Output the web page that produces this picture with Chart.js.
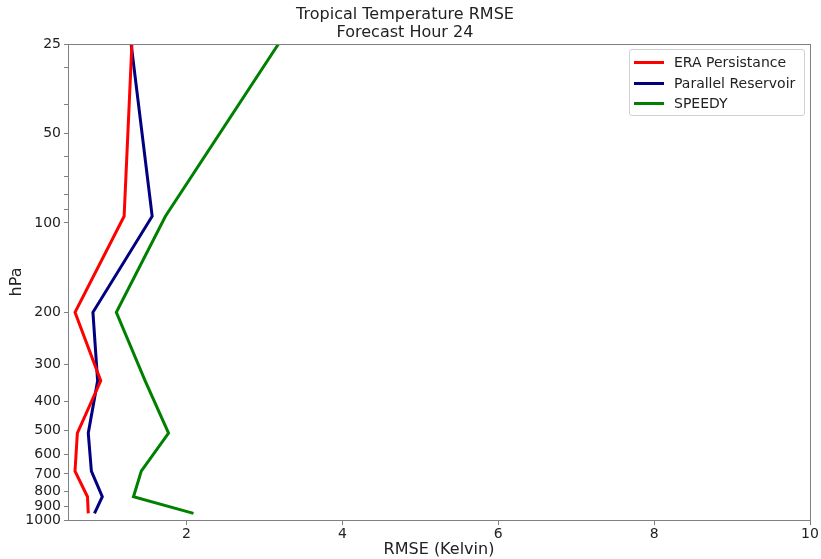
<!DOCTYPE html>
<html>
<head>
<meta charset="utf-8">
<script src="https://cdn.jsdelivr.net/npm/chart.js@4"></script>
<style>
  body { margin: 0; background: #fff; }
  #wrap { position: relative; width: 821px; height: 559px; }
  #leyenda {
    position: absolute; left: 629px; top: 49px; width: 174px; height: 65px;
    border: 1px solid #d0d0d0; border-radius: 3px; background: rgba(255,255,255,0.8);
    font-family: "DejaVu Sans", sans-serif; font-size: 14px; color: #222;
  }
  .item { position: absolute; left: 0; height: 20px; line-height: 20px; white-space: nowrap; }
  .item span.linea { position: absolute; left: 4px; top: 9px; width: 30px; height: 3px; }
  .item span.txt { position: absolute; left: 44px; top: 0; }
</style>
</head>
<body>
<div id="wrap">
  <canvas id="myChart" width="821" height="559"></canvas>
  <div id="leyenda"></div>
</div>
<script>
// niveles de presion (hPa)
var niveles = [25, 95, 200, 340, 510, 685, 835, 950];
// RMSE por serie
var eraPersistencia = [1.30, 1.20, 0.57, 0.90, 0.60, 0.57, 0.73, 0.74];
var reservorio = [1.29, 1.56, 0.80, 0.86, 0.74, 0.78, 0.92, 0.82];
var speedy = [3.18, 1.73, 1.10, 1.47, 1.77, 1.42, 1.32, 2.09];

var nombres = ['ERA Persistance', 'Parallel Reservoir', 'SPEEDY'];
var colores = ['#ff0000', '#000080', '#008000'];

var ticksY = [25, 30, 40, 50, 60, 70, 80, 90, 100, 200, 300, 400, 500, 600, 700, 800, 900, 1000];
var etiquetasY = [25, 50, 100, 200, 300, 400, 500, 600, 700, 800, 900, 1000];
var ticksX = [2, 4, 6, 8, 10];

function puntos(valores) {
  return valores.map(function (v, i) { return { x: v, y: niveles[i] }; });
}

var series = [eraPersistencia, reservorio, speedy];
var datasets = series.map(function (s, i) {
  return {
    label: nombres[i],
    data: puntos(s),
    borderColor: colores[i],
    backgroundColor: colores[i],
    borderWidth: 3,
    pointRadius: 0,
    fill: false,
    tension: 0
  };
});

// leyenda en html
var ley = document.getElementById('leyenda');
nombres.forEach(function (n, i) {
  var d = document.createElement('div');
  d.className = 'item';
  d.style.top = (2 + i * 20.5) + 'px';
  d.innerHTML = '<span class="linea" style="background:' + colores[i] + '"></span><span class="txt">' + n + '</span>';
  ley.appendChild(d);
});

var marco = {
  id: 'marco',
  afterDraw: function (chart) {
    var a = chart.chartArea, ctx = chart.ctx;
    ctx.save();
    ctx.strokeStyle = '#808080';
    ctx.lineWidth = 1;
    ctx.strokeRect(a.left + 0.5, a.top + 0.5, a.right - a.left, a.bottom - a.top);
    ctx.restore();
  }
};

Chart.defaults.font.family = '"DejaVu Sans", sans-serif';
Chart.defaults.color = '#222';

var ctx = document.getElementById('myChart');
var myChart = new Chart(ctx, {
  type: 'line',
  data: { datasets: datasets },
  plugins: [marco],
  options: {
    responsive: false,
    animation: false,
    layout: { padding: { left: 0, right: 11, top: 0, bottom: 0 } },
    plugins: {
      legend: { display: false },
      tooltip: { enabled: false },
      title: {
        display: true,
        text: ['Tropical Temperature RMSE', 'Forecast Hour 24'],
        font: { size: 16, weight: 'normal', lineHeight: 1.125 },
        color: '#222',
        padding: { top: 6, bottom: 2 }
      }
    },
    scales: {
      x: {
        type: 'linear',
        min: 0.48,
        max: 10,
        afterBuildTicks: function (scale) {
          scale.ticks = ticksX.map(function (v) { return { value: v }; });
        },
        afterFit: function (scale) { scale.height = 39; },
        ticks: { font: { size: 14 }, color: '#222', padding: 1, maxRotation: 0, autoSkip: false },
        grid: { drawOnChartArea: false, tickLength: 5, color: '#808080' },
        border: { color: '#808080' },
        title: { display: true, text: 'RMSE (Kelvin)', font: { size: 16 }, color: '#222', padding: 0 }
      },
      y: {
        type: 'logarithmic',
        reverse: true,
        min: 25,
        max: 1000,
        afterBuildTicks: function (scale) {
          scale.ticks = ticksY.map(function (v) { return { value: v }; });
        },
        afterFit: function (scale) { scale.width = 68; },
        ticks: {
          font: { size: 14 },
          color: '#222',
          padding: 3,
          autoSkip: false,
          callback: function (v) { return etiquetasY.indexOf(v) >= 0 ? String(v) : ''; }
        },
        grid: { drawOnChartArea: false, tickLength: 4, color: '#808080' },
        border: { color: '#808080' },
        title: { display: true, text: 'hPa', font: { size: 16 }, color: '#222', padding: { top: 7, bottom: 0 } }
      }
    }
  }
});
</script>
</body>
</html>
